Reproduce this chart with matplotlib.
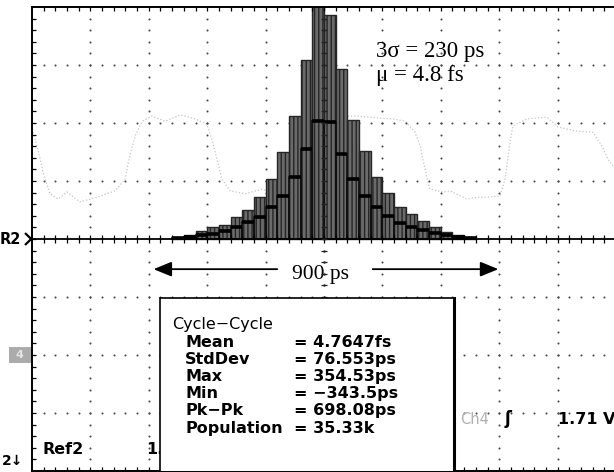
import numpy as np
import matplotlib
matplotlib.use("Agg")
import matplotlib.pyplot as plt
from matplotlib.patches import Rectangle

# ---- histogram of cycle-to-cycle jitter (150 ps/div horizontally, heights in divisions)
bin_width_ps = 30
bin_left_ps = np.arange(-390, 390, bin_width_ps)
hist_outer = [0.03, 0.07, 0.14, 0.21, 0.24, 0.38, 0.50, 0.72, 1.03, 1.50, 2.12, 3.09, 4.20,
              3.86, 2.93, 2.05, 1.52, 1.07, 0.79, 0.55, 0.43, 0.31, 0.21, 0.12, 0.07, 0.03]
hist_inner = [0.02, 0.03, 0.07, 0.09, 0.14, 0.21, 0.29, 0.38, 0.55, 0.74, 1.07, 1.55, 2.03,
              2.02, 1.47, 1.03, 0.74, 0.55, 0.40, 0.28, 0.21, 0.16, 0.10, 0.07, 0.03, 0.02]

# ---- faint clock waveform behind the histogram (ps, divisions)
trace_ps = [-747, -735, -722, -704, -683, -660, -627, -583, -537, -511, -498, -483, -467, -442,
            -408, -370, -331, -301, -288, -275, -262, -241, -203, -159, -126, -87, -49, 15,
            85, 131, 177, 208, 234, 247, 265, 272, 306, 324, 367, 393, 419, 452, 465, 478,
            485, 521, 573, 601, 650, 691, 714, 729, 742]
trace_div = [1.84, 1.55, 1.16, 0.78, 0.69, 0.81, 0.64, 0.72, 0.83, 1.03, 1.47, 1.81, 2.03, 2.12,
             2.03, 2.14, 2.07, 1.98, 1.72, 1.38, 1.03, 0.83, 0.78, 0.86, 0.76, 0.86, 2.07, 2.10,
             2.12, 2.09, 2.07, 2.03, 1.84, 1.60, 1.03, 0.86, 0.81, 0.83, 0.69, 0.72, 0.72, 0.74,
             1.03, 1.67, 1.95, 2.07, 2.10, 1.93, 1.86, 1.84, 1.60, 1.38, 1.26]

# ---- measurement readout
stat_title = "Cycle\u2212Cycle"
stat_names = ["Mean", "StdDev", "Max", "Min", "Pk\u2212Pk", "Population"]
stat_values = ["4.7647fs", "76.553ps", "354.53ps", "\u2212343.5ps", "698.08ps", "35.33k"]

sigma_label = "3\u03c3 = 230 ps"
mu_label = "\u03bc = 4.8 fs"
span_label = "900 ps"
span_ps = 900

# ---- figure / graticule
fig = plt.figure(figsize=(6.14, 4.72), dpi=100)
ax = fig.add_axes([32 / 614, 1 / 472, 584 / 614, 464 / 472])
ax.set_xlim(-750, 750)
ax.set_ylim(-4, 4)
ax.set_xticks([])
ax.set_yticks([])
for s in ax.spines.values():
    s.set_linewidth(1.4)
    s.set_color("black")

px = 150 / 58.4   # ps per pixel
py = 1 / 58.0     # div per pixel

minor_x = np.arange(-720, 750, 30)
minor_y = np.arange(-3.8, 4.0, 0.2)

grid_kw = dict(color="#4a4a4a", s=2.2, linewidths=0, zorder=1)
for gx in [-600, -450, -300, -150, 150, 300, 450, 600]:
    ax.scatter(np.full(minor_y.size, gx), minor_y, **grid_kw)
for gy in [-3, -2, -1, 1, 2, 3]:
    ax.scatter(minor_x, np.full(minor_x.size, gy), **grid_kw)

# frame ticks
ax.vlines(minor_x, 4 - 4 * py, 4, color="black", lw=0.9, zorder=3)
ax.vlines(minor_x, -4, -4 + 4 * py, color="black", lw=0.9, zorder=3)
ax.hlines(minor_y, -750, -750 + 4 * px, color="black", lw=0.9, zorder=3)

# centre crosshair with minor ticks
ax.plot([-750, 750], [0, 0], color="black", lw=1.3, zorder=3)
ax.vlines(minor_x, -4 * py, 4 * py, color="black", lw=0.9, zorder=3)
ax.scatter(np.zeros(minor_y.size), minor_y, color="#222222", s=3, linewidths=0, zorder=3)
ax.hlines(minor_y, -3 * px, 3 * px, color="#222222", lw=0.9, zorder=3)

# waveform
ax.plot(trace_ps, trace_div, color="#c4c4c4", lw=0.9, linestyle=(0, (1, 1.6)), zorder=0.5)

# histogram
plt.rcParams["hatch.linewidth"] = 1.0
plt.rcParams["hatch.color"] = "#2c2c2c"
ax.bar(bin_left_ps, hist_outer, width=bin_width_ps, align="edge", bottom=0,
       facecolor="#6a6a6a", edgecolor="#262626", hatch="||||", linewidth=1.0, zorder=2)
ax.bar(bin_left_ps, hist_inner, width=bin_width_ps, align="edge", bottom=0,
       facecolor="none", edgecolor="#111111", linewidth=1.2, zorder=2.2)
ax.hlines(hist_inner, bin_left_ps, bin_left_ps + bin_width_ps, color="black", lw=2.6, zorder=2.3)

# annotations
serif = "Liberation Serif"
ax.text(134, 3.14, sigma_label, family=serif, fontsize=16.5, va="baseline", ha="left", zorder=5)
ax.text(134, 2.72, mu_label, family=serif, fontsize=16.5, va="baseline", ha="left", zorder=5)
ax.text(-8, -0.69, span_label, family=serif, fontsize=15.5, va="baseline", ha="center", zorder=2.5)
arrow_y = -0.52
left_head = -span_ps / 2 + 5
right_head = span_ps / 2 + 5
ax.annotate("", xy=(left_head, arrow_y), xytext=(-113, arrow_y),
            arrowprops=dict(arrowstyle="-|>,head_length=1.1,head_width=0.45", color="black", lw=1.3),
            zorder=5)
ax.annotate("", xy=(right_head, arrow_y), xytext=(118, arrow_y),
            arrowprops=dict(arrowstyle="-|>,head_length=1.1,head_width=0.45", color="black", lw=1.3),
            zorder=5)

# readout box
box = Rectangle((-421, -4.2), 755, 3.183, facecolor="white", edgecolor="black", lw=1.2, zorder=4)
ax.add_patch(box)
ax.plot([334, 334], [-4, -1.017], color="black", lw=2.2, zorder=4.1)

sans = "DejaVu Sans"
ax.text(-390, -1.55, stat_title, family=sans, fontsize=11.5, va="baseline", zorder=5)
row_y = [-1.86, -2.155, -2.45, -2.74, -3.03, -3.345]
for name, val, yy in zip(stat_names, stat_values, row_y):
    ax.text(-357, yy, name, family=sans, fontsize=11.5, fontweight="bold", va="baseline", zorder=5)
    ax.text(-76, yy, "= " + val, family=sans, fontsize=11.5, fontweight="bold", va="baseline", zorder=5)

# channel / reference readouts
ax.text(349, -3.19, "Ch4", family=sans, fontsize=10.5, color="#b0b0b0", va="baseline", zorder=5)
ax.text(465, -3.19, "\u0283", family=sans, fontsize=12, fontweight="bold", va="baseline", zorder=5)
ax.text(601, -3.19, "1.71 V", family=sans, fontsize=11.5, fontweight="bold", va="baseline", zorder=5)
ax.text(-722, -3.71, "Ref2", family=sans, fontsize=11.5, fontweight="bold", va="baseline", zorder=5)
ax.text(-456, -3.71, "1.", family=sans, fontsize=11.5, fontweight="bold", va="baseline", zorder=3)

# channel markers left of the graticule
ax.text(-834, 0, "R2", family=sans, fontsize=10.5, fontweight="bold", va="center", ha="left",
        clip_on=False, zorder=5)
ax.plot([-766, -752, -766], [0.09, 0, -0.09], color="black", lw=1.6, clip_on=False, zorder=5)
ax.add_patch(Rectangle((-810, -2.14), 58, 0.28, facecolor="#ababab", edgecolor="none",
                       clip_on=False, zorder=5))
ax.text(-781, -2.0, "4", family=sans, fontsize=8, fontweight="bold", color="#e6e6e6",
        va="center", ha="center", clip_on=False, zorder=6)
ax.text(-828, -3.9, "2\u2193", family=sans, fontsize=10, fontweight="bold", va="baseline",
        ha="left", clip_on=False, zorder=5)

fig.savefig("out.png", dpi=100)
